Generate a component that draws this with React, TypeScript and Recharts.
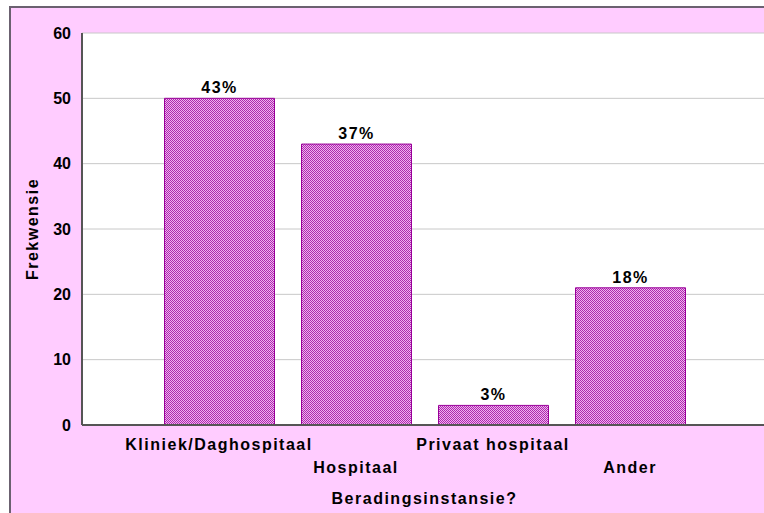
import { BarChart, Bar, XAxis, YAxis, CartesianGrid, LabelList } from 'recharts';

const categories = ['Kliniek/Daghospitaal', 'Hospitaal', 'Privaat hospitaal', 'Ander'];
const frequencies = [50, 43, 3, 21];
const percentLabels = ['43%', '37%', '3%', '18%'];
const yTicks = [0, 10, 20, 30, 40, 50, 60];

const data = categories.map((name, i) => ({
  name,
  value: frequencies[i],
  pct: percentLabels[i],
}));

const FONT = '"Liberation Sans", Arial, sans-serif';
const textStyle = { fontFamily: FONT, fontWeight: 'bold', fontSize: 16, letterSpacing: 1.5, fill: '#000' };

// staggered category labels, like the original export
function StaggeredTick(props: any) {
  const { x, y, payload, index } = props;
  const dy = index % 2 === 0 ? 23 : 46;
  return (
    <text x={x} y={y + dy} textAnchor="middle" style={textStyle}>
      {payload.value}
    </text>
  );
}

export default function App() {
  return (
    <div style={{ position: 'fixed', left: 0, top: 0, width: 764, height: 513, overflow: 'hidden', background: '#fff' }}>
      {/* pink outer frame */}
      <div
        style={{
          position: 'absolute',
          left: 9,
          top: 6,
          width: 820,
          height: 600,
          background: '#FFCCFF',
          borderLeft: '2px solid #6b6170',
          borderTop: '2px solid #6b6170',
        }}
      />
      <div style={{ position: 'absolute', left: 0, top: 0 }}>
        <BarChart width={800} height={513} data={data} margin={{ top: 33, right: 33, bottom: 58, left: 0 }}>
          <defs>
            <pattern id="dots" width="2" height="2" patternUnits="userSpaceOnUse">
              <rect width="2" height="2" fill="#F0B0F0" />
              <rect x="0" y="0" width="1" height="1" fill="#AD2AAD" />
              <rect x="1" y="1" width="1" height="1" fill="#AD2AAD" />
            </pattern>
          </defs>
          <CartesianGrid vertical={false} stroke="#c8c8c8" fill="#fff" />
          <XAxis
            dataKey="name"
            height={30}
            padding={{ left: 68.5, right: 68.5 }}
            axisLine={{ stroke: '#555', strokeWidth: 2 }}
            tickLine={false}
            tickSize={0}
            interval={0}
            tick={<StaggeredTick />}
            label={({ viewBox }: any) => (
              <text x={viewBox.x + viewBox.width / 2} y={viewBox.y + 79} textAnchor="middle" style={textStyle}>
                Beradingsinstansie?
              </text>
            )}
          />
          <XAxis
            xAxisId="top"
            orientation="top"
            dataKey="name"
            padding={{ left: 68.5, right: 68.5 }}
            axisLine={{ stroke: '#555', strokeWidth: 2 }}
            tick={false}
            height={0}
          />
          <YAxis
            width={82}
            domain={[0, 60]}
            ticks={yTicks}
            axisLine={{ stroke: '#555', strokeWidth: 2 }}
            tickLine={false}
            tickMargin={5}
            tick={{ fontFamily: FONT, fontWeight: 'bold', fontSize: 16, fill: '#000' }}
            label={({ viewBox }: any) => {
              const cx = 32;
              const cy = viewBox.y + viewBox.height / 2;
              return (
                <text
                  x={cx}
                  y={cy}
                  transform={`rotate(-90 ${cx} ${cy})`}
                  textAnchor="middle"
                  dominantBaseline="central"
                  style={textStyle}
                >
                  Frekwensie
                </text>
              );
            }}
          />
          <Bar dataKey="value" barSize={110} fill="url(#dots)" stroke="#990099" strokeWidth={1} isAnimationActive={false}>
            <LabelList dataKey="pct" position="top" offset={5} style={textStyle} />
          </Bar>
        </BarChart>
      </div>
    </div>
  );
}
